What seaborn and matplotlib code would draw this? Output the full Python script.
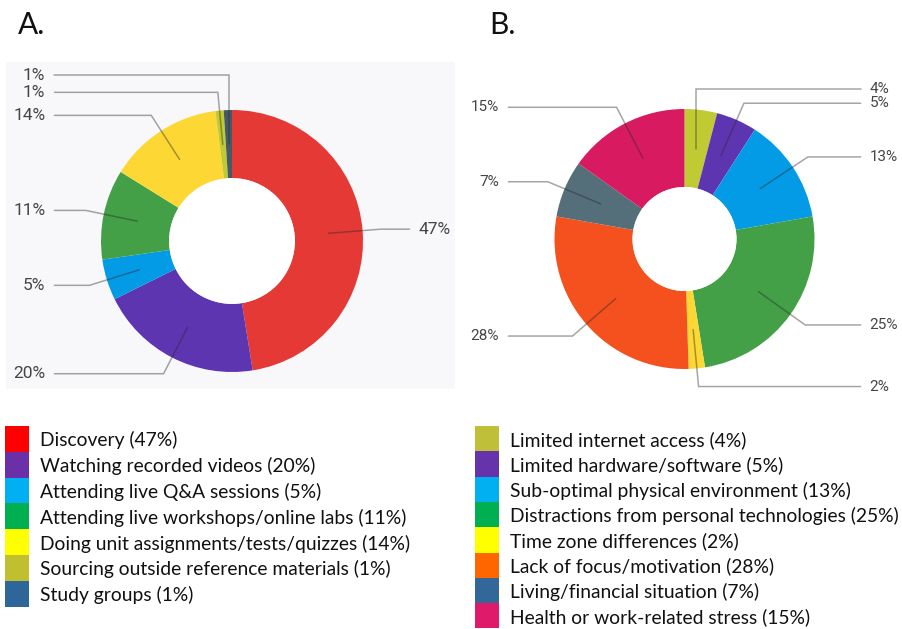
import numpy as np
import matplotlib
matplotlib.use("Agg")
import matplotlib.pyplot as plt
import seaborn as sns
from matplotlib.patches import Rectangle, Circle

# ---- Panel A: how learning time was spent ----
a_names = ["Discovery", "Watching recorded videos", "Attending live Q&A sessions",
           "Attending live workshops/online labs", "Doing unit assignments/tests/quizzes",
           "Sourcing outside reference materials", "Study groups"]
a_values = [47, 20, 5, 11, 14, 1, 1]
a_slice_colors = ["#e53935", "#5e35b1", "#039be5", "#43a047", "#fdd835", "#c0ca33", "#455a64"]
a_key_colors = ["#ff0000", "#6b30a8", "#00b0f0", "#00b050", "#ffff00", "#bfbf30", "#2f6699"]

# ---- Panel B: obstacles to learning ----
b_names = ["Limited internet access", "Limited hardware/software",
           "Sub-optimal physical environment", "Distractions from personal technologies",
           "Time zone differences", "Lack of focus/motivation",
           "Living/financial situation", "Health or work-related stress"]
b_values = [4, 5, 13, 25, 2, 28, 7, 15]
b_slice_colors = ["#c0ca33", "#5e35b1", "#039be5", "#43a047", "#fdd835", "#f4511e", "#546e7a", "#d81b60"]
b_key_colors = ["#bfbf3a", "#6633aa", "#00b0f0", "#00b050", "#ffff00", "#ff6600", "#336699", "#e01a6a"]

W, H = 903, 629
sns.set_theme(style="white")
plt.rcParams["font.family"] = ["Lato", "DejaVu Sans"]

fig = plt.figure(figsize=(W / 100, H / 100), dpi=100)
fig.patch.set_facecolor("white")


def box(x0, y0, x1, y1):
    return [x0 / W, 1 - y1 / H, (x1 - x0) / W, (y1 - y0) / H]


def donut(axbox, cx, cy, r, hole, values, colors, gap, fsize, bg=None):
    x0, y0, x1, y1 = axbox
    if bg is not None:
        fig.patches.append(Rectangle((x0 / W, 1 - y1 / H), (x1 - x0) / W, (y1 - y0) / H,
                                     transform=fig.transFigure, facecolor=bg,
                                     edgecolor="none", zorder=-5))
    ax = fig.add_axes(box(*axbox))
    ax.patch.set_alpha(0)
    pal = sns.color_palette(colors)
    ax.pie(values, startangle=90, counterclock=False, colors=pal,
           wedgeprops=dict(width=1 - hole, linewidth=0))
    ax.add_patch(Circle((0, 0), hole, facecolor="white", edgecolor="none"))
    ax.set_xlim((x0 - cx) / r, (x1 - cx) / r)
    ax.set_ylim((cy - y1) / r, (cy - y0) / r)
    ax.set_aspect("auto")
    ax.set_axis_off()

    total = float(sum(values))
    cum = np.cumsum([0] + list(values))[:-1]
    mids = np.deg2rad(90 - 360 * (cum + np.array(values) / 2) / total)
    r_elb = 1.14
    r_anchor = (1 + hole) / 2
    sides = np.where(np.cos(mids) >= 0, 1, -1)
    ys = r_elb * np.sin(mids)

    # push crowded labels apart, away from the horizontal centre line
    for s in (1, -1):
        idx = [i for i in range(len(values)) if sides[i] == s]
        up = sorted([i for i in idx if ys[i] >= 0], key=lambda i: ys[i])
        for a, b in zip(up, up[1:]):
            ys[b] = max(ys[b], ys[a] + gap)
        dn = sorted([i for i in idx if ys[i] < 0], key=lambda i: -ys[i])
        for a, b in zip(dn, dn[1:]):
            ys[b] = min(ys[b], ys[a] - gap)

    for i, v in enumerate(values):
        th, s, y = mids[i], sides[i], ys[i]
        ax_, ay_ = r_anchor * np.cos(th), r_anchor * np.sin(th)
        if abs(y) < r_elb:
            ex = s * np.sqrt(r_elb ** 2 - y ** 2)
        else:
            ex = ax_
        ax.plot([ax_, ex, s * 1.355], [ay_, y, y], color="#2a2a2a", alpha=0.42,
                lw=1.1, solid_joinstyle="miter", clip_on=False, zorder=3)
        ax.text(s * 1.425, y, f"{v}%", ha="left" if s > 0 else "right",
                va="center", fontsize=fsize, color="#454545",
                family=["Roboto", "DejaVu Sans"], zorder=4)
    return ax


donut((6, 62, 455, 389), 232, 241, 131, 0.48, a_values, a_slice_colors, 0.13, 12.5,
      bg="#f8f8fb")
donut((465, 62, 903, 400), 684.5, 239, 130, 0.40, b_values, b_slice_colors, 0.11, 11)

# panel letters
fig.text(18 / W, 1 - 25 / H, "A.", fontsize=21.5, va="center", ha="left", color="#111111")
fig.text(489 / W, 1 - 25 / H, "B.", fontsize=21.5, va="center", ha="left", color="#111111")


def key(names, values, colors, x_sw, y_top, step, x_txt):
    for i, (n, v, c) in enumerate(zip(names, values, colors)):
        top = y_top + i * step
        fig.patches.append(Rectangle((x_sw / W, 1 - (top + step) / H), 24 / W, step / H,
                                     transform=fig.transFigure, facecolor=c,
                                     edgecolor="none", zorder=1))
        fig.text(x_txt / W, 1 - (top + step / 2 + 1.5) / H, f"{n} ({v}%)", fontsize=13.9,
                 ha="left", va="center", color="#111111")


key(a_names, a_values, a_key_colors, 5, 426, 25.8, 40)
key(b_names, b_values, b_key_colors, 475, 426, 25.3, 510)

fig.savefig("out.png", dpi=100)
